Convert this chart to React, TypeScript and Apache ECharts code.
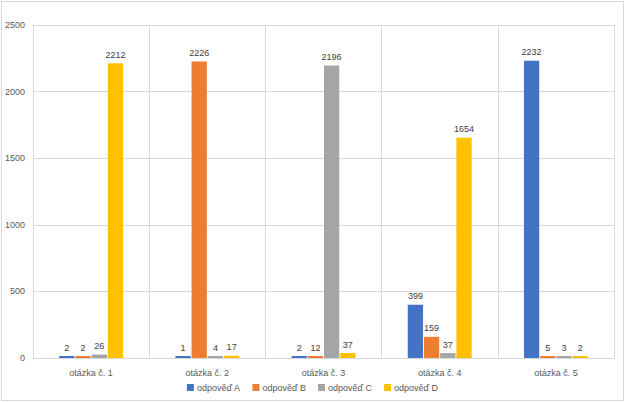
import React, { useEffect, useRef } from "react";
import * as echarts from "echarts";

const categories = ["otázka č. 1", "otázka č. 2", "otázka č. 3", "otázka č. 4", "otázka č. 5"];
const seriesNames = ["odpověď A", "odpověď B", "odpověď C", "odpověď D"];
const answerA = [2, 1, 2, 399, 2232];
const answerB = [2, 2226, 12, 159, 5];
const answerC = [26, 4, 2196, 37, 3];
const answerD = [2212, 17, 37, 1654, 2];
const colors = ["#4472C4", "#ED7D31", "#A5A5A5", "#FFC000"];

export default function App() {
  const ref = useRef<HTMLDivElement>(null);
  useEffect(() => {
    if (!ref.current) return;
    const chart = echarts.init(ref.current, undefined, { renderer: "svg" });
    const data = [answerA, answerB, answerC, answerD];
    chart.setOption({
      animation: false,
      textStyle: { fontFamily: "Liberation Sans, Arial, sans-serif" },
      grid: { left: 31, right: 9, top: 23, bottom: 42 },
      legend: {
        bottom: 3,
        left: "center",
        itemWidth: 7,
        itemHeight: 7,
        itemGap: 12,
        icon: "rect",
        textStyle: { fontSize: 9, color: "#595959", padding: [0, 0, 0, -2] },
        data: seriesNames,
      },
      xAxis: {
        type: "category",
        data: categories,
        axisTick: { show: false },
        axisLine: { lineStyle: { color: "#D9D9D9" } },
        axisLabel: { fontSize: 9, color: "#595959", margin: 10 },
        splitLine: { show: true, lineStyle: { color: "#D9D9D9" } },
      },
      yAxis: {
        type: "value",
        min: 0,
        max: 2500,
        interval: 500,
        axisLabel: { fontSize: 9, color: "#595959", margin: 8, formatter: (v: number) => String(v) },
        axisLine: { show: false },
        axisTick: { show: false },
        splitLine: { lineStyle: { color: "#D9D9D9" } },
      },
      series: seriesNames.map((name, i) => ({
        name,
        type: "bar",
        data: data[i],
        itemStyle: { color: colors[i] },
        barGap: "6%",
        barCategoryGap: "45%",
        barMinHeight: 2,
        label: { show: true, position: "top", fontSize: 9, color: "#404040", distance: 4 },
      })),
    });
    return () => chart.dispose();
  }, []);
  return (
    <div
      style={{
        width: 623,
        height: 400,
        border: "1px solid #D9D9D9",
        boxSizing: "border-box",
        position: "absolute",
        left: 1,
        top: 1,
        background: "#fff",
      }}
    >
      <div ref={ref} style={{ width: "100%", height: "100%" }} />
    </div>
  );
}
